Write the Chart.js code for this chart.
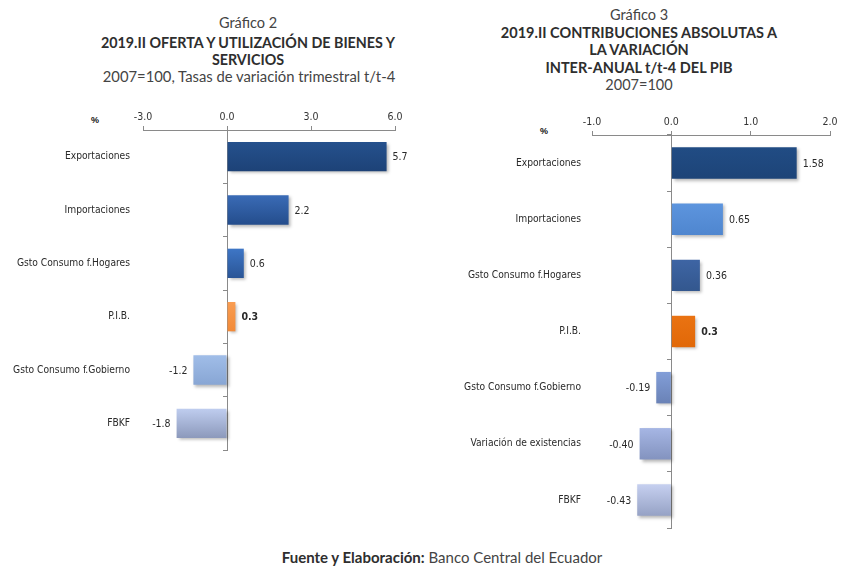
<!DOCTYPE html>
<html><head><meta charset="utf-8">
<script src="https://cdn.jsdelivr.net/npm/chart.js@4/dist/chart.umd.min.js"></script>
<style>
html,body{margin:0;padding:0;background:#fff;}
body{width:853px;height:575px;overflow:hidden;position:relative;font-family:Lato,'Open Sans',sans-serif;}
canvas{position:absolute;}
.t{position:absolute;white-space:nowrap;color:#444;font-size:14.5px;line-height:17px;transform:translateX(-50%);text-align:center;}
.b{font-weight:bold;color:#2e2e2e;}
.pc{position:absolute;font-family:'Liberation Sans',Arial,sans-serif;font-weight:bold;font-size:9px;color:#111;}
</style></head>
<body>
<div class="t" style="left:248px;top:14px;">Gráfico 2</div>
<div class="t b" style="left:248px;top:34px;font-size:14.3px;">2019.II OFERTA Y UTILIZACIÓN DE BIENES Y</div>
<div class="t b" style="left:248px;top:51px;font-size:14.3px;">SERVICIOS</div>
<div class="t" style="left:249px;top:68px;font-size:14.8px;">2007=100, Tasas de variación trimestral t/t-4</div>

<div class="t" style="left:639px;top:6px;">Gráfico 3</div>
<div class="t b" style="left:639px;top:24px;">2019.II CONTRIBUCIONES ABSOLUTAS A</div>
<div class="t b" style="left:639px;top:41px;">LA VARIACIÓN</div>
<div class="t b" style="left:639px;top:59px;">INTER-ANUAL t/t-4 DEL PIB</div>
<div class="t" style="left:639px;top:76px;">2007=100</div>

<div class="pc" style="left:91px;top:115px;">%</div>
<div class="pc" style="left:540px;top:126px;">%</div>

<div class="t" style="left:442px;top:549px;font-size:15px;"><b style="color:#2e2e2e">Fuente y Elaboración:</b> Banco Central del Ecuador</div>

<canvas id="c1" width="430" height="470" style="left:0;top:0;width:430px;height:470px;"></canvas>
<canvas id="c2" width="413" height="560" style="left:440px;top:0;width:413px;height:560px;"></canvas>

<script>
// ---- Data: Gráfico 2 ----
const categories1 = ['Exportaciones','Importaciones','Gsto Consumo f.Hogares','P.I.B.','Gsto Consumo f.Gobierno','FBKF'];
const values1 = [5.7, 2.2, 0.6, 0.3, -1.2, -1.8];
const valueLabels1 = ['5.7','2.2','0.6','0.3','-1.2','-1.8'];
const xTicks1 = [-3, 0, 3, 6];

// ---- Data: Gráfico 3 ----
const categories2 = ['Exportaciones','Importaciones','Gsto Consumo f.Hogares','P.I.B.','Gsto Consumo f.Gobierno','Variación de existencias','FBKF'];
const values2 = [1.58, 0.65, 0.36, 0.3, -0.19, -0.40, -0.43];
const valueLabels2 = ['1.58','0.65','0.36','0.3','-0.19','-0.40','-0.43'];
const xTicks2 = [-1, 0, 1, 2];

// ---- Styles ----
const top1 = ['#25518d','#3a6bb6','#3e76c6','#f99d52','#a0bde8','#bfcdef'];
const bot1 = ['#1d4277','#244d8c','#2a5596','#f28a38','#88a6d4','#8c99bb'];
const top2 = ['#214c84','#5d95de','#3e65a4','#ea7312','#829ed8','#a6b6e4','#c6d0f0'];
const bot2 = ['#1d4478','#4f86cf','#33578e','#e16808','#6a82b6','#8393bf','#96a2c5'];

const NARROW = "'DejaVu Sans Condensed','Liberation Sans Narrow','Arial Narrow',sans-serif";
const AX = '#8a8a8a';

function gradient(tops, bots, frac){
  return ctx => {
    const chart = ctx.chart, ca = chart.chartArea, i = ctx.dataIndex;
    if (!ca || !chart.scales.y) return tops[i];
    const y = chart.scales.y.getPixelForValue(i);
    const h = (ca.bottom - ca.top) / chart.data.labels.length * frac;
    const g = chart.ctx.createLinearGradient(0, y - h/2, 0, y + h/2);
    g.addColorStop(0, tops[i]); g.addColorStop(1, bots[i]);
    return g;
  };
}

const decorations = {
  id: 'decorations',
  beforeDatasetsDraw(chart){
    const c = chart.ctx; c.save();
    c.shadowColor = 'rgba(0,0,0,0.28)'; c.shadowBlur = 3; c.shadowOffsetX = 2; c.shadowOffsetY = 2;
  },
  afterDatasetsDraw(chart, args, opts){
    const c = chart.ctx; c.restore();
    const meta = chart.getDatasetMeta(0);
    const data = chart.data.datasets[0].data;
    meta.data.forEach((bar, i) => {
      c.save();
      c.font = (i === opts.bold ? 'bold ' : '') + '10.5px ' + NARROW;
      c.fillStyle = '#2a2a2a'; c.textBaseline = 'middle';
      if (data[i] >= 0) { c.textAlign = 'left'; c.fillText(opts.labels[i], bar.x + 6, bar.y + 1); }
      else { c.textAlign = 'right'; c.fillText(opts.labels[i], bar.x - 6, bar.y + 1); }
      c.restore();
    });
  }
};

function makeChart(id, cats, vals, labs, ticks, tops, bots, cfg){
  return new Chart(document.getElementById(id), {
    type: 'bar',
    data: { labels: cats, datasets: [{ data: vals, backgroundColor: gradient(tops, bots, cfg.frac), borderWidth: 0, barPercentage: cfg.frac, categoryPercentage: 1 }] },
    options: {
      indexAxis: 'y', responsive: false, animation: false, devicePixelRatio: 1,
      layout: { padding: cfg.padding },
      plugins: { legend: { display: false }, tooltip: { enabled: false }, decorations: { labels: labs, bold: 3 } },
      scales: {
        x: {
          position: 'top', min: ticks[0], max: ticks[ticks.length-1],
          afterBuildTicks: s => { s.ticks = ticks.map(v => ({ value: v })); },
          afterFit: s => { s.height = cfg.xh; },
          grid: { drawOnChartArea: false, tickLength: 4, color: AX },
          border: { color: AX },
          ticks: { padding: 2, color: '#333', font: { family: NARROW, size: 10.5 }, callback: v => Number(v).toFixed(1) }
        },
        y: {
          afterFit: s => { s.width = cfg.yw; },
          grid: { display: false, drawTicks: false }, border: { display: false },
          ticks: { padding: cfg.lp, color: '#2a2a2a', font: { family: NARROW, size: 10.2 } }
        },
        y2: {
          axis: 'y', type: 'category', labels: cats, position: { x: 0 }, offset: true,
          grid: { offset: true, drawOnChartArea: false, tickLength: 4, color: AX },
          border: { display: true, color: AX },
          ticks: { display: false }
        }
      }
    },
    plugins: [decorations]
  });
}

makeChart('c1', categories1, values1, valueLabels1, xTicks1, top1, bot1,
  { padding: { top: 100, left: 0, right: 35, bottom: 20 }, xh: 30, yw: 143, lp: 13, frac: 0.55 });
makeChart('c2', categories2, values2, valueLabels2, xTicks2, top2, bot2,
  { padding: { top: 100, left: 0, right: 23, bottom: 32 }, xh: 35, yw: 152, lp: 11, frac: 0.56 });
</script>
</body></html>
